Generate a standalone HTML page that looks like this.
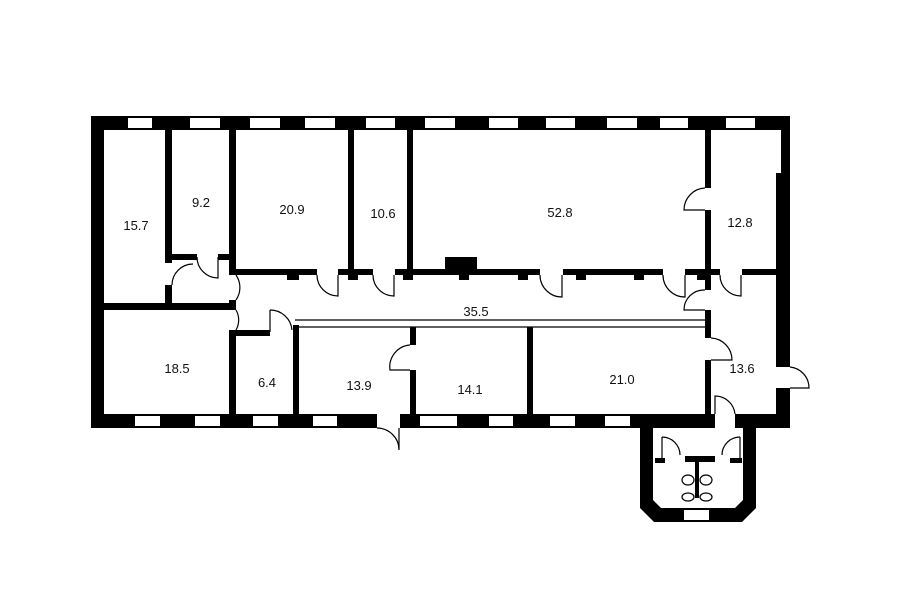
<!DOCTYPE html>
<html><head><style>body{margin:0;background:#fff}svg{display:block}text{font-family:"Liberation Sans",sans-serif;font-size:13px;fill:#111;text-anchor:middle}</style></head><body>
<svg width="900" height="604" viewBox="0 0 900 604">
<g fill="#000">
<rect x="91" y="116" width="699" height="14"/>
<rect x="91" y="116" width="13" height="312"/>
<rect x="91" y="414" width="699" height="14"/>
<rect x="776" y="173" width="14" height="194"/>
<rect x="781" y="116" width="9" height="60"/>
<rect x="776" y="388" width="14" height="40"/>
<path d="M640 428 H756 V508 L742 522 H654 L640 508 Z"/>
</g>
<path d="M653 428 H743 V500 L735 508 H661 L653 500 Z" fill="#fff"/>
<g fill="#fff">
<rect x="128" y="118" width="24" height="10"/><rect x="190" y="118" width="30" height="10"/><rect x="250" y="118" width="30" height="10"/><rect x="305" y="118" width="30" height="10"/><rect x="366" y="118" width="29" height="10"/><rect x="425" y="118" width="30" height="10"/><rect x="489" y="118" width="29" height="10"/><rect x="546" y="118" width="29" height="10"/><rect x="607" y="118" width="30" height="10"/><rect x="660" y="118" width="28" height="10"/><rect x="726" y="118" width="29" height="10"/>
<rect x="135" y="416" width="25" height="10"/><rect x="195" y="416" width="25" height="10"/><rect x="253" y="416" width="25" height="10"/><rect x="313" y="416" width="24" height="10"/><rect x="377" y="414" width="23" height="14"/><rect x="420" y="416" width="37" height="10"/><rect x="489" y="416" width="24" height="10"/><rect x="550" y="416" width="25" height="10"/><rect x="605" y="416" width="25" height="10"/><rect x="715" y="414" width="20" height="14"/>
<rect x="684" y="510" width="25" height="10"/>
</g>
<g fill="#000">
<rect x="165" y="129" width="7" height="134"/><rect x="165" y="285" width="7" height="22"/>
<rect x="104" y="303" width="131" height="7"/>
<rect x="172" y="254" width="25" height="6"/><rect x="218" y="254" width="11" height="6"/>
<rect x="229" y="129" width="7" height="146"/>
<rect x="229" y="300" width="7" height="10"/>
<rect x="229" y="269" width="88" height="6"/><rect x="338" y="269" width="35" height="6"/><rect x="395" y="269" width="145" height="6"/><rect x="563" y="269" width="100" height="6"/><rect x="685" y="269" width="35" height="6"/><rect x="742" y="269" width="35" height="6"/>
<rect x="287" y="275" width="12" height="5"/><rect x="348" y="275" width="10" height="5"/><rect x="403" y="275" width="10" height="5"/><rect x="459" y="275" width="10" height="5"/><rect x="518" y="275" width="10" height="5"/><rect x="576" y="275" width="10" height="5"/><rect x="634" y="275" width="10" height="5"/><rect x="697" y="275" width="10" height="5"/>
<rect x="445" y="257" width="32" height="12"/>
<rect x="348" y="129" width="6" height="142"/>
<rect x="407" y="129" width="6" height="142"/>
<rect x="705" y="129" width="6" height="59"/><rect x="705" y="210" width="6" height="80"/>
<rect x="705" y="310" width="6" height="28"/><rect x="705" y="360" width="6" height="55"/>
<rect x="229" y="330" width="7" height="85"/><rect x="229" y="330" width="41" height="6"/>
<rect x="293" y="325" width="6" height="90"/>
<rect x="410" y="327" width="6" height="18"/><rect x="410" y="370" width="6" height="45"/>
<rect x="527" y="327" width="6" height="88"/>
<rect x="655" y="458" width="10" height="5"/><rect x="685" y="456" width="30" height="6"/><rect x="730" y="458" width="12" height="5"/><rect x="695" y="462" width="4" height="36"/>
</g>
<g fill="none" stroke="#000" stroke-width="1.2">
<path d="M295 320 H705 M295 327 H705"/>
<path d="M197 257 A21 21 0 0 0 218 278 V257"/>
<path d="M172 285 A21 21 0 0 1 193 264"/>
<path d="M236 275 A22 22 0 0 1 236 300"/>
<path d="M236 310 A20 20 0 0 1 236 330"/>
<path d="M270 310 A22 22 0 0 1 292 330 M270 310 V332"/>
<path d="M317 275 A21 21 0 0 0 338 296 V275"/>
<path d="M373 275 A21 21 0 0 0 394 296 V275"/>
<path d="M540 275 A22 22 0 0 0 562 297 V275"/>
<path d="M663 275 A22 22 0 0 0 685 297 V275"/>
<path d="M720 275 A21 21 0 0 0 741 296 V275"/>
<path d="M705 188 A22 22 0 0 0 684 210 H705"/>
<path d="M705 290 A20 20 0 0 0 684 310 H705"/>
<path d="M711 338 A22 22 0 0 1 732 360 H711"/>
<path d="M410 345 A22 22 0 0 0 390 370 H410"/>
<path d="M790 367 A21 21 0 0 1 809 388 H790"/>
<path d="M377 428 A22 22 0 0 1 399 450 V428"/>
<path d="M715 414 V396 A20 20 0 0 1 735 414"/>
<path d="M662 437 A18 18 0 0 1 680 455 M662 437 V458 M740 437 A18 18 0 0 0 722 455 M740 437 V458"/>
<ellipse cx="688" cy="480" rx="6" ry="5"/><ellipse cx="706" cy="480" rx="6" ry="5"/><ellipse cx="688" cy="497" rx="6" ry="4"/><ellipse cx="706" cy="497" rx="6" ry="4"/>
</g>
<text x="136" y="230">15.7</text><text x="201" y="207">9.2</text><text x="292" y="214">20.9</text><text x="383" y="218">10.6</text><text x="560" y="217">52.8</text><text x="740" y="227">12.8</text><text x="476" y="316">35.5</text><text x="177" y="373">18.5</text><text x="267" y="387">6.4</text><text x="359" y="390">13.9</text><text x="470" y="394">14.1</text><text x="622" y="384">21.0</text><text x="742" y="373">13.6</text>
</svg>
</body></html>
